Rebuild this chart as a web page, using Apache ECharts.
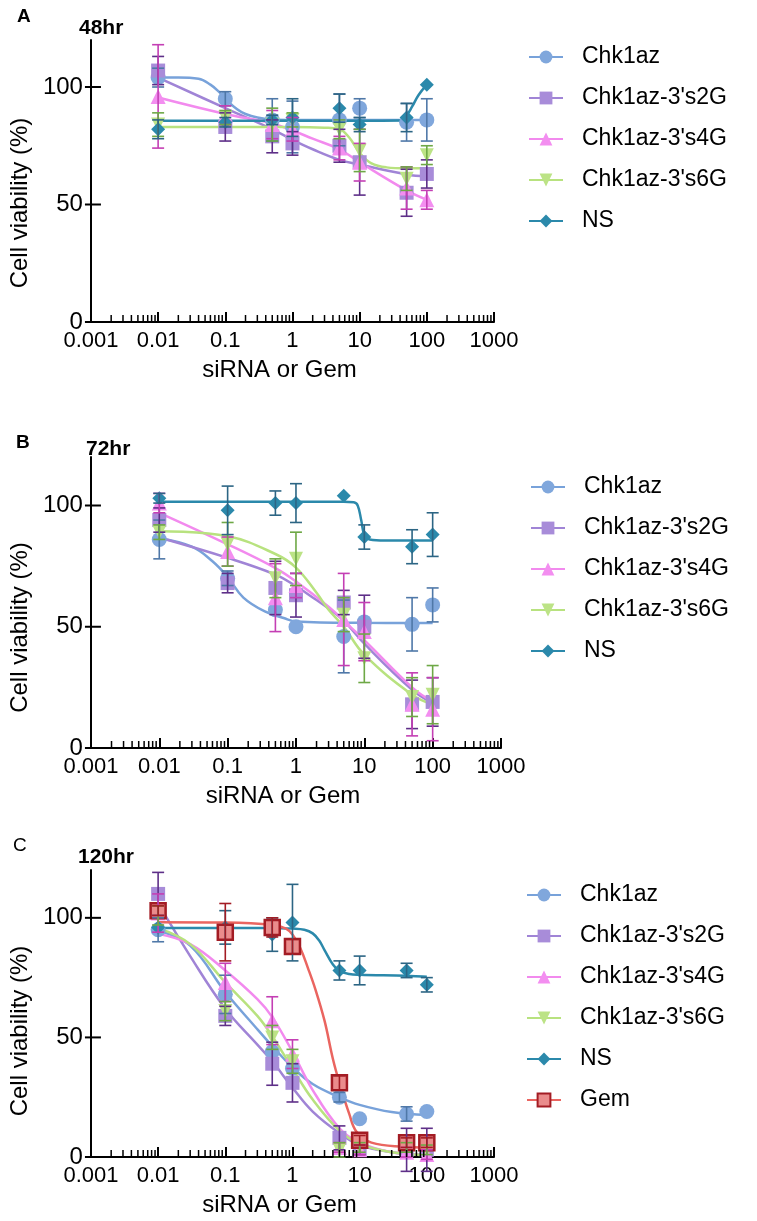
<!DOCTYPE html>
<html><head><meta charset="utf-8">
<script src="https://cdn.jsdelivr.net/npm/echarts@6/dist/echarts.min.js"></script>
<style>html,body{margin:0;padding:0;background:#fff}#c{width:757px;height:1221px}</style>
</head><body><div id="c"></div>
<script>
// ---------- data ----------
const conc = [0.01, 0.1, 0.5, 1, 5, 10, 50, 100];
const xTickLabels = ['0.001', '0.01', '0.1', '1', '10', '100', '1000'];
const yTickValues = [0, 50, 100];
const panelLetters = ['A', 'B', 'C'];
const panelTimes = ['48hr', '72hr', '120hr'];
const xAxisTitle = 'siRNA or Gem';
const yAxisTitle = 'Cell viability (%)';

// Panel A (48hr) measured points
const aChk1az = [104, 95, 86, 83, 86, 91, 85, 86];
const aChk1azErr = [4, 3, 9, 11, 11, 4, 8, 9];
const aS2G = [107, 83, 79, 76, 75, 68, 55, 63];
const aS2GErr = [6, 6, 7, 5, 7, 14, 10, 6];
const aS4G = [96, 88, 84, 82, 74, 68, 57, 52];
const aS4GErr = [22, 4, 6, 5, 5, 8, 9, 4];
const aS6G = [84, 87, 84, 86, 82, 73, 61, 71];
const aS6GErr = [5, 3, 7, 3, 4, 9, 5, 4];
const aNS = [82, 85, 86, 87, 91, 84, 87, 101];
const aNSErr = [4, 2, 2, 8, 6, 3, 6, 0];
// Panel A fitted curves
const aChk1azFitX = [0.01, 0.02, 0.04, 0.06, 0.08, 0.1, 0.15, 0.2, 0.3, 0.5, 1, 10, 100];
const aChk1azFitY = [104, 104, 103.5, 101, 98, 95, 90.5, 88.5, 87, 86.2, 86, 86, 86];
const aS2GFitX = [0.01, 0.1, 0.5, 1, 2, 5, 10, 50, 100];
const aS2GFitY = [104, 91, 82, 77.5, 73.5, 69, 67, 62.8, 62];
const aS4GFitX = [0.01, 0.1, 0.5, 1, 2, 5, 10, 50, 100];
const aS4GFitY = [95.5, 88.5, 84.5, 81.5, 78, 73.5, 68, 56, 52];
const aS6GFitX = [0.01, 1, 3, 5, 7, 10, 15, 25, 50, 100];
const aS6GFitY = [83, 83, 82.7, 82, 78.5, 72, 67.5, 65.8, 65.4, 65.4];
const aNSFitX = [0.01, 1, 10, 40, 50, 60, 75, 100];
const aNSFitY = [85.6, 85.6, 85.6, 85.7, 88, 91.5, 96.5, 101];

// Panel B (72hr)
const bChk1az = [86, 70, 57, 50, 46, 52, 51, 59];
const bChk1azErr = [8, 3, 0, 0, 15, 0, 11, 7];
const bS2G = [94, 68, 66, 63, 60, 50, 18, 19];
const bS2GErr = [5, 4, 11, 9, 5, 13, 10, 10];
const bS4G = [101, 81, 62, 67, 53, 48, 18, 16];
const bS4GErr = [4, 6, 14, 5, 19, 12, 13, 13];
const bS6G = [89, 84, 70, 78, 55, 37, 21, 22];
const bS6GErr = [3, 9, 8, 11, 7, 10, 8, 12];
const bNS = [103, 98, 101, 101, 104, 87, 83, 88];
const bNSErr = [2, 10, 5, 8, 0, 5, 7, 9];
const bChk1azFitX = [0.01, 0.03, 0.06, 0.1, 0.17, 0.35, 0.66, 1, 10, 100];
const bChk1azFitY = [86.5, 83, 77, 70.5, 62, 56.3, 53.6, 52.2, 51.6, 51.5];
const bS2GFitX = [0.01, 0.1, 0.5, 1, 2, 3, 5, 10, 50, 100];
const bS2GFitY = [86.8, 78.4, 71.5, 66.7, 61, 57.5, 52.5, 43, 24, 18.5];
const bS4GFitX = [0.01, 0.1, 0.5, 1, 3, 5, 10, 50, 100];
const bS4GFitY = [97, 84, 74.2, 68.7, 58.3, 52.5, 44.5, 25, 19];
const bS6GFitX = [0.01, 0.1, 0.5, 1, 2, 3, 5, 10, 50, 100];
const bS6GFitY = [89.4, 87.3, 80, 74.4, 64, 57, 50, 38.5, 22, 18];
const bNSFitX = [0.01, 1, 5, 7, 8, 9, 10, 12, 20, 100];
const bNSFitY = [101.5, 101.5, 101.5, 101.3, 100, 94, 88, 86, 85.6, 85.6];

// Panel C (120hr)
const cChk1az = [95, 68, 44, 37, 25, 16, 18, 19];
const cChk1azErr = [5, 8, 0, 0, 2, 0, 3, 0];
const cS2G = [110, 59, 39, 31, 8, 3, 3, 3];
const cS2GErr = [9, 4, 9, 8, 5, 2, 9, 9];
const cS4G = [102, 73, 57, 43, 4, 3, 2, 1];
const cS4GErr = [8, 8, 10, 6, 2, 2, 2, 2];
const cS6G = [101, 61, 50, 40, 3, 4, 4, 3];
const cS6GErr = [4, 4, 5, 5, 3, 2, 2, 2];
const cNS = [96, 96, 93, 98, 78, 78, 78, 72];
const cNSErr = [0, 7, 7, 16, 4, 6, 3, 3];
const cGem = [103, 94, 96, 88, 31, 7, 6, 6];
const cGemErr = [2, 12, 4, 3, 3, 2, 2, 2];
const cChk1azFitX = [0.01, 0.03, 0.1, 0.3, 0.5, 1, 2, 5, 10, 30, 100];
const cChk1azFitY = [94.7, 88.4, 69, 53.4, 46.4, 37.5, 30.5, 25, 21.8, 18.8, 17.6];
const cS2GFitX = [0.01, 0.03, 0.1, 0.3, 0.5, 1, 2, 5, 10, 30, 100];
const cS2GFitY = [106, 84, 62, 47, 40, 29, 19, 10, 5, 2, 0.8];
const cS4GFitX = [0.01, 0.03, 0.1, 0.3, 0.5, 1, 2, 5, 10, 30, 100];
const cS4GFitY = [93.3, 89, 78, 66, 58.5, 44, 28, 12, 6, 2, 0.8];
const cS6GFitX = [0.01, 0.03, 0.1, 0.3, 0.5, 1, 2, 5, 10, 30, 100];
const cS6GFitY = [95.7, 89, 73, 59, 50.5, 37, 24, 11, 5.5, 2, 0.8];
const cNSFitX = [0.01, 0.5, 1, 1.5, 2, 2.5, 3, 4, 5, 7, 10, 50, 100];
const cNSFitY = [95.8, 95.8, 95.5, 95, 93.5, 90.5, 86.5, 80.5, 77.8, 76.5, 76.2, 75.8, 75.4];
const cGemFitX = [0.01, 0.1, 0.5, 0.8, 1, 1.3, 1.7, 2.2, 3, 4, 5, 7, 9, 15, 45, 100];
const cGemFitY = [98.2, 98, 97, 95.5, 93, 87.5, 79, 70, 57, 41, 31, 18, 10.5, 6, 4.3, 4];

// ---------- styles ----------
const FONT = 'Arial, "Liberation Sans", Helvetica, sans-serif';
const STY = {
  'Chk1az':        {color: '#80a7dc', line: '#78a2da', err: '#4f78a8', symbol: 'circle', size: 15},
  "Chk1az-3's2G":  {color: '#a88cd9', line: '#a084d6', err: '#5e2f88', symbol: 'rect', size: 14},
  "Chk1az-3's4G":  {color: '#f38ef0', line: '#f28aee', err: '#c43fb4', symbol: 'triangle', size: 15},
  "Chk1az-3's6G":  {color: '#bce386', line: '#b8e27f', err: '#6ea846', symbol: 'path://M0,0L10,0L5,9Z', size: 14},
  'NS':            {color: '#2b89ab', line: '#2b89ab', err: '#2c6584', symbol: 'diamond', size: 14},
  'Gem':           {color: '#ea8c8c', line: '#ea6560', err: '#a31c24', symbol: 'rect', size: 15, border: '#a31c24'}
};

const panels = [
  {groups: [
    ['Chk1az', aChk1az, aChk1azErr, aChk1azFitX, aChk1azFitY],
    ["Chk1az-3's2G", aS2G, aS2GErr, aS2GFitX, aS2GFitY],
    ["Chk1az-3's4G", aS4G, aS4GErr, aS4GFitX, aS4GFitY],
    ["Chk1az-3's6G", aS6G, aS6GErr, aS6GFitX, aS6GFitY],
    ['NS', aNS, aNSErr, aNSFitX, aNSFitY]
  ], grid: {left: 72, top: 40, width: 422, height: 282}, legend: {left: 528, top: 45}, yNamePad: 44,
     letter: {left: 17, top: 7, weight: 'bold'}, time: {left: 79, top: 18}},
  {groups: [
    ['Chk1az', bChk1az, bChk1azErr, bChk1azFitX, bChk1azFitY],
    ["Chk1az-3's2G", bS2G, bS2GErr, bS2GFitX, bS2GFitY],
    ["Chk1az-3's4G", bS4G, bS4GErr, bS4GFitX, bS4GFitY],
    ["Chk1az-3's6G", bS6G, bS6GErr, bS6GFitX, bS6GFitY],
    ['NS', bNS, bNSErr, bNSFitX, bNSFitY]
  ], grid: {left: 70, top: 457, width: 431, height: 291}, legend: {left: 530, top: 475}, yNamePad: 50,
     letter: {left: 16, top: 433, weight: 'bold'}, time: {left: 86, top: 439}},
  {groups: [
    ['Chk1az', cChk1az, cChk1azErr, cChk1azFitX, cChk1azFitY],
    ["Chk1az-3's2G", cS2G, cS2GErr, cS2GFitX, cS2GFitY],
    ["Chk1az-3's4G", cS4G, cS4GErr, cS4GFitX, cS4GFitY],
    ["Chk1az-3's6G", cS6G, cS6GErr, cS6GFitX, cS6GFitY],
    ['NS', cNS, cNSErr, cNSFitX, cNSFitY],
    ['Gem', cGem, cGemErr, cGemFitX, cGemFitY]
  ], grid: {left: 71, top: 870, width: 423, height: 287}, legend: {left: 526, top: 883}, yNamePad: 35,
     letter: {left: 13, top: 836, weight: 'normal'}, time: {left: 78, top: 847}}
];

// minor tick positions of the log axis (2..9 x each decade)
const minorTicks = [];
for (let d = -3; d <= 2; d++) for (let k = 2; k <= 9; k++) minorTicks.push([k * Math.pow(10, d), 0]);

function errRender(params, api) {
  const x = api.value(0), y = api.value(1), e = api.value(2);
  const t = api.coord([x, y + e]), b = api.coord([x, y - e]);
  const c = api.visual('color'), hw = 6, st = {stroke: c, lineWidth: 1.6};
  return {type: 'group', children: [
    {type: 'line', shape: {x1: t[0], y1: t[1], x2: b[0], y2: b[1]}, style: st},
    {type: 'line', shape: {x1: t[0] - hw, y1: t[1], x2: t[0] + hw, y2: t[1]}, style: st},
    {type: 'line', shape: {x1: b[0] - hw, y1: b[1], x2: b[0] + hw, y2: b[1]}, style: st}
  ]};
}
function minorRender(params, api) {
  const p = api.coord([api.value(0), api.value(1)]);
  return {type: 'line', shape: {x1: p[0], y1: p[1], x2: p[0], y2: p[1] - 7}, style: {stroke: '#000', lineWidth: 1.5}};
}
function yTickRender(params, api) {
  const p = api.coord([api.value(0), api.value(1)]);
  return {type: 'line', shape: {x1: p[0] - 6, y1: p[1], x2: p[0] + 10, y2: p[1]}, style: {stroke: '#000', lineWidth: 2}};
}

const grids = [], xAxes = [], yAxes = [], series = [], legends = [], titles = [];
panels.forEach((P, i) => {
  grids.push(Object.assign({containLabel: false}, P.grid));
  xAxes.push({
    type: 'log', logBase: 10, gridIndex: i, min: 0.001, max: 1000,
    name: xAxisTitle, nameLocation: 'middle', nameGap: 36,
    nameTextStyle: {fontSize: 24, color: '#000', fontFamily: FONT, padding: [0, 26, 0, 0]},
    axisLine: {lineStyle: {color: '#000', width: 2}},
    axisTick: {inside: true, length: 10, lineStyle: {color: '#000', width: 2}},
    axisLabel: {fontSize: 22, color: '#000', fontFamily: FONT, margin: 8,
      formatter: v => xTickLabels[Math.round(Math.log10(v)) + 3]},
    splitLine: {show: false}, minorTick: {show: false}
  });
  yAxes.push({
    type: 'value', gridIndex: i, min: 0, max: 120, interval: 50,
    name: yAxisTitle, nameLocation: 'middle', nameGap: 42,
    nameTextStyle: {fontSize: 24, color: '#000', fontFamily: FONT, padding: [0, P.yNamePad, 0, 0]},
    axisLine: {show: true, lineStyle: {color: '#000', width: 2}},
    axisTick: {show: false},
    axisLabel: {fontSize: 24, color: '#000', fontFamily: FONT, margin: 8,
      formatter: v => (yTickValues.indexOf(v) >= 0 ? String(v) : '')},
    splitLine: {show: false}
  });
  // curves first so the legend uses them (line + symbol icon)
  P.groups.forEach(g => {
    const [name, ys, es, fx, fy] = g, s = STY[name];
    series.push({
      type: 'line', name, xAxisIndex: i, yAxisIndex: i, z: 2, silent: true,
      data: fx.map((x, k) => [x, fy[k]]), smooth: 0.4,
      showSymbol: false, symbol: s.symbol, symbolSize: s.size,
      lineStyle: {color: s.line, width: 2.5},
      itemStyle: {color: s.color, borderColor: s.border || s.color, borderWidth: s.border ? 2.5 : 0}
    });
  });
  P.groups.forEach(g => {
    const [name, ys, es] = g, s = STY[name];
    series.push({
      type: 'scatter', name, xAxisIndex: i, yAxisIndex: i, z: 3, silent: true,
      data: conc.map((x, k) => [x, ys[k]]), symbol: s.symbol, symbolSize: s.size,
      itemStyle: {color: s.color, opacity: 1, borderColor: s.border || s.color, borderWidth: s.border ? 2.5 : 0}
    });
  });
  P.groups.forEach(g => {
    const [name, ys, es] = g, s = STY[name];
    series.push({
      type: 'custom', name, xAxisIndex: i, yAxisIndex: i, z: 4, silent: true,
      data: conc.map((x, k) => [x, ys[k], es[k]]).filter(d => d[2] > 0),
      encode: {x: 0, y: 1}, renderItem: errRender, itemStyle: {color: s.err}
    });
  });
  series.push({type: 'custom', name: 'minorTicks', xAxisIndex: i, yAxisIndex: i, z: 5, silent: true,
    data: minorTicks, encode: {x: 0, y: 1}, renderItem: minorRender});
  series.push({type: 'custom', name: 'yTicks', xAxisIndex: i, yAxisIndex: i, z: 5, silent: true,
    data: yTickValues.map(v => [0.001, v]), encode: {x: 0, y: 1}, renderItem: yTickRender});
  legends.push({
    orient: 'vertical', left: P.legend.left, top: P.legend.top, selectedMode: false,
    itemWidth: 34, itemHeight: 16, itemGap: 17, padding: 0,
    textStyle: {fontSize: 23, color: '#000', fontFamily: FONT, lineHeight: 24, padding: [0, 0, 0, 14]},
    data: P.groups.map(g => g[0])
  });
  titles.push({text: panelLetters[i], left: P.letter.left, top: P.letter.top, padding: 0,
    textStyle: {fontSize: 19, fontWeight: P.letter.weight, color: '#000', fontFamily: FONT}});
  titles.push({text: panelTimes[i], left: P.time.left, top: P.time.top, padding: 0,
    textStyle: {fontSize: 21, fontWeight: 'bold', color: '#000', fontFamily: FONT}});
});

const chart = echarts.init(document.getElementById('c'), null, {renderer: 'canvas'});
chart.setOption({
  animation: false, backgroundColor: '#fff',
  textStyle: {fontFamily: FONT},
  title: titles, legend: legends, grid: grids, xAxis: xAxes, yAxis: yAxes, series
});
</script></body></html>
